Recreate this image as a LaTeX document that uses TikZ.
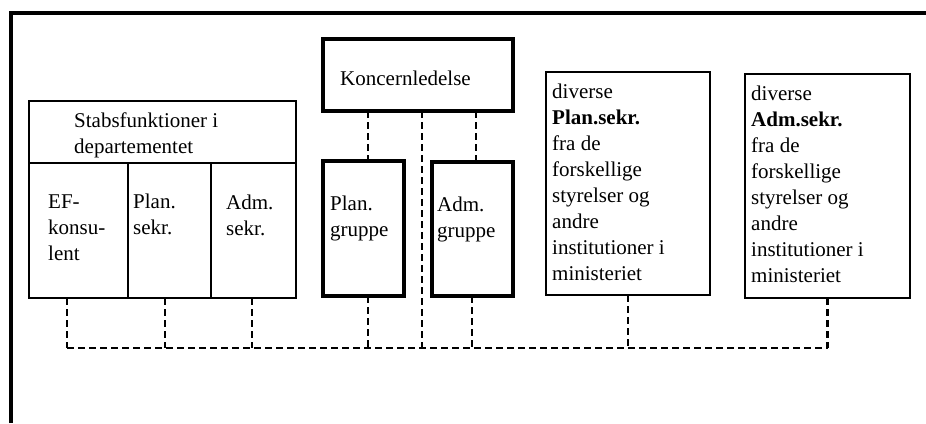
\documentclass[tikz,border=0pt]{standalone}
\usepackage{fontspec}
\setmainfont{Liberation Serif}
\begin{document}
\begin{tikzpicture}[x=1pt,y=-1pt,
  thinbox/.style={draw, line width=2.5pt, rectangle, inner sep=0pt, outer sep=0pt, anchor=north west},
  thickbox/.style={draw, line width=4.5pt, rectangle, inner sep=0pt, outer sep=0pt, anchor=north west},
  divider/.style={line width=2.5pt},
  lbl/.style={anchor=north west, inner sep=0pt, align=left, font=\fontsize{21}{26}\selectfont},
  link/.style={line width=2.8pt, dash pattern=on 7pt off 4pt},
  frame/.style={line width=4pt}]
\useasboundingbox (0,0) rectangle (926,423);
% outer frame
\draw[frame] (11,423) -- (11,12.5) -- (926,12.5);
% boxes
\node[thinbox, minimum width=267pt, minimum height=197pt] (stab) at (29,101) {};
\draw[divider] (29,163) -- (296,163);
\draw[divider] (128,163) -- (128,298);
\draw[divider] (211,163) -- (211,298);
\node[thickbox, minimum width=190pt, minimum height=72pt] (kon) at (323,39) {};
\node[thickbox, minimum width=81pt, minimum height=135pt] (pg) at (323,161) {};
\node[thickbox, minimum width=81pt, minimum height=134pt] (ag) at (432,162) {};
\node[thinbox, minimum width=164pt, minimum height=223pt] (ps) at (546,72) {};
\node[thinbox, minimum width=165pt, minimum height=224pt] (as) at (745,74) {};
% texts
\node[lbl] (tkon) at (340,66.8) {\strut Koncernledelse};
\node[lbl] (tstab) at (74,108.8) {\strut Stabsfunktioner i\\departementet};
\node[lbl] (tef) at (48,189.8) {\strut EF-\\konsu-\\lent};
\node[lbl] (tpls) at (133,189.8) {\strut Plan.\\sekr.};
\node[lbl] (tads) at (226,190.8) {\strut Adm.\\sekr.};
\node[lbl] (tpg) at (330,191.8) {\strut Plan.\\gruppe};
\node[lbl] (tag) at (437,192.8) {\strut Adm.\\gruppe};
\node[lbl] (tps) at (552,79.8) {\strut diverse\\\textbf{Plan.sekr.}\\fra de\\forskellige\\styrelser og\\andre\\institutioner i\\ministeriet};
\node[lbl] (tas) at (751,81.8) {\strut diverse\\\textbf{Adm.sekr.}\\fra de\\forskellige\\styrelser og\\andre\\institutioner i\\ministeriet};
% bus coordinates
\coordinate (b1) at (67,348);
\coordinate (b2) at (165,348);
\coordinate (b3) at (252,348);
\coordinate (b4) at (368,348);
\coordinate (b5) at (422,348);
\coordinate (b6) at (472,348);
\coordinate (b7) at (476,348);
% connectors
\draw[link] (b1) -- (as.south |- b1);
\draw[link] (stab.south -| b1) -- (b1);
\draw[link] (stab.south -| b2) -- (b2);
\draw[link] (stab.south -| b3) -- (b3);
\draw[link] (kon.south -| b4) -- (pg.north -| b4);
\draw[link] (pg.south -| b4) -- (b4);
\draw[link] (kon.south -| b5) -- (b5);
\draw[link] (kon.south -| b7) -- (ag.north -| b7);
\draw[link] (ag.south -| b6) -- (b6);
\draw[link] (ps.south) -- (ps.south |- b1);
\draw[link] (as.south) -- (as.south |- b1);
\end{tikzpicture}
\end{document}
